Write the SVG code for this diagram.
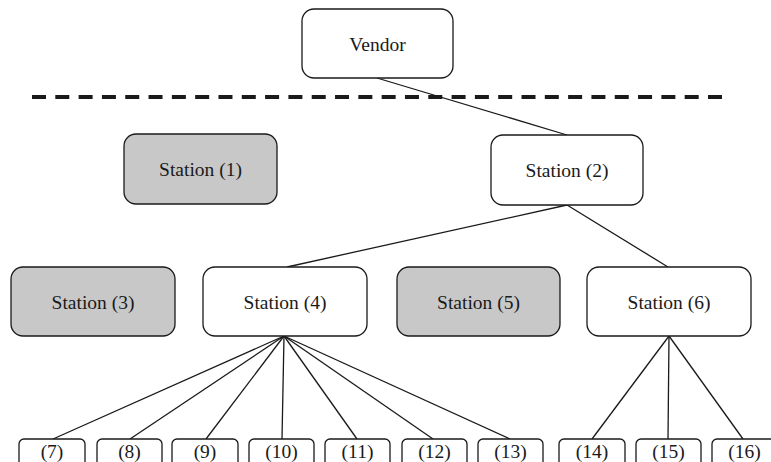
<svg xmlns="http://www.w3.org/2000/svg" width="771" height="462" viewBox="0 0 771 462">
  <defs>
    <style>
      .box { fill: #ffffff; stroke: #1a1a1a; stroke-width: 1.3; }
      .shaded { fill: #c8c8c8; }
      .leaf { fill: #ffffff; stroke: #1a1a1a; stroke-width: 1.3; }
      .lbl { font-family: "Liberation Serif", "Times New Roman", serif; font-size: 19.5px; fill: #1a1a1a; text-anchor: middle; }
      .edge { stroke: #1a1a1a; stroke-width: 1.3; fill: none; }
      .divider { stroke: #1a1a1a; stroke-width: 4; stroke-dasharray: 14 9.31; fill: none; }
    </style>
  </defs>

  <rect width="771" height="462" fill="#ffffff"/>

  <!-- boundary between vendor and stations -->
  <line class="divider" x1="32" y1="97" x2="723" y2="97"/>

  <!-- connectors -->
  <g id="connectors">
    <line class="edge" x1="377" y1="78" x2="567" y2="135"/>
    <line class="edge" x1="567" y1="205" x2="287" y2="267"/>
    <line class="edge" x1="567" y1="205" x2="668" y2="267"/>
    <line class="edge" x1="284" y1="336" x2="53" y2="439"/>
    <line class="edge" x1="284" y1="336" x2="130" y2="439"/>
    <line class="edge" x1="284" y1="336" x2="206" y2="439"/>
    <line class="edge" x1="284" y1="336" x2="282" y2="439"/>
    <line class="edge" x1="284" y1="336" x2="357" y2="439"/>
    <line class="edge" x1="284" y1="336" x2="433" y2="439"/>
    <line class="edge" x1="284" y1="336" x2="510" y2="439"/>
    <line class="edge" x1="669" y1="336" x2="592" y2="439"/>
    <line class="edge" x1="669" y1="336" x2="668" y2="439"/>
    <line class="edge" x1="669" y1="336" x2="743" y2="439"/>
  </g>

  <g id="vendor">
    <rect class="box" x="302" y="9" width="151" height="69" rx="12"/>
    <text class="lbl" x="377.5" y="50.5">Vendor</text>
  </g>

  <g id="station-1">
    <rect class="box shaded" x="124" y="134" width="153" height="70" rx="12"/>
    <text class="lbl" x="200.5" y="176">Station (1)</text>
  </g>
  <g id="station-2">
    <rect class="box" x="491" y="135" width="152" height="70" rx="12"/>
    <text class="lbl" x="567" y="177">Station (2)</text>
  </g>
  <g id="station-3">
    <rect class="box shaded" x="11" y="267" width="164" height="69" rx="12"/>
    <text class="lbl" x="93" y="308.5">Station (3)</text>
  </g>
  <g id="station-4">
    <rect class="box" x="203" y="267" width="164" height="69" rx="12"/>
    <text class="lbl" x="285" y="308.5">Station (4)</text>
  </g>
  <g id="station-5">
    <rect class="box shaded" x="397" y="267" width="163" height="69" rx="12"/>
    <text class="lbl" x="478.5" y="308.5">Station (5)</text>
  </g>
  <g id="station-6">
    <rect class="box" x="587" y="267" width="164" height="69" rx="12"/>
    <text class="lbl" x="669" y="308.5">Station (6)</text>
  </g>

  <!-- leaf stations, boxes run past the bottom edge -->
  <g id="station-7">
    <rect class="leaf" x="19" y="439" width="66" height="40" rx="5"/>
    <text class="lbl" x="52" y="458">(7)</text>
  </g>
  <g id="station-8">
    <rect class="leaf" x="97" y="439" width="65" height="40" rx="5"/>
    <text class="lbl" x="129.5" y="458">(8)</text>
  </g>
  <g id="station-9">
    <rect class="leaf" x="172" y="439" width="66" height="40" rx="5"/>
    <text class="lbl" x="205" y="458">(9)</text>
  </g>
  <g id="station-10">
    <rect class="leaf" x="249" y="439" width="65" height="40" rx="5"/>
    <text class="lbl" x="281.5" y="458">(10)</text>
  </g>
  <g id="station-11">
    <rect class="leaf" x="325" y="439" width="65" height="40" rx="5"/>
    <text class="lbl" x="357.5" y="458">(11)</text>
  </g>
  <g id="station-12">
    <rect class="leaf" x="402" y="439" width="65" height="40" rx="5"/>
    <text class="lbl" x="434.5" y="458">(12)</text>
  </g>
  <g id="station-13">
    <rect class="leaf" x="478" y="439" width="65" height="40" rx="5"/>
    <text class="lbl" x="510.5" y="458">(13)</text>
  </g>
  <g id="station-14">
    <rect class="leaf" x="559" y="439" width="66" height="40" rx="5"/>
    <text class="lbl" x="592" y="458">(14)</text>
  </g>
  <g id="station-15">
    <rect class="leaf" x="636" y="439" width="65" height="40" rx="5"/>
    <text class="lbl" x="668.5" y="458">(15)</text>
  </g>
  <g id="station-16">
    <rect class="leaf" x="712" y="439" width="66" height="40" rx="5"/>
    <text class="lbl" x="744.5" y="458">(16)</text>
  </g>
</svg>
